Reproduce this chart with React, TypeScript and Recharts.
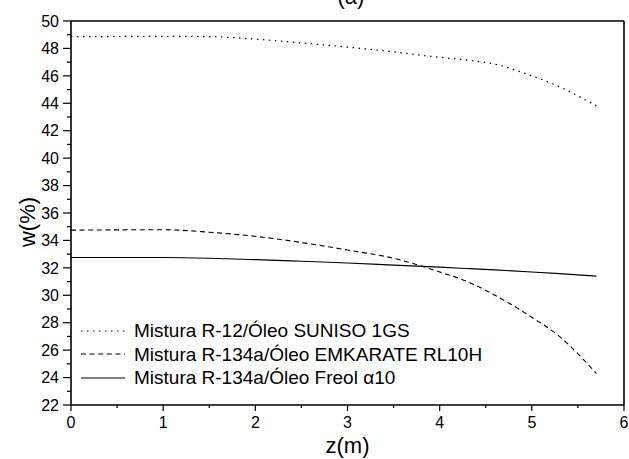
import React from 'react';
import { LineChart, Line, XAxis, YAxis, ReferenceLine } from 'recharts';

const zValues = [0, 0.5, 1, 1.5, 2, 2.5, 3, 3.5, 4, 4.3, 4.6, 5, 5.3, 5.7];
const suniso = [48.85, 48.87, 48.88, 48.86, 48.68, 48.4, 48.1, 47.75, 47.35, 47.15, 46.85, 46.0, 45.2, 43.8];
const emkarate = [34.75, 34.77, 34.78, 34.6, 34.3, 33.85, 33.3, 32.7, 31.7, 31.0, 30.0, 28.4, 27.0, 24.3];
const freol = [32.75, 32.75, 32.75, 32.7, 32.6, 32.48, 32.35, 32.2, 32.05, 31.95, 31.85, 31.7, 31.58, 31.4];

const xTicks = [0, 0.5, 1, 1.5, 2, 2.5, 3, 3.5, 4, 4.5, 5, 5.5, 6];
const yTicks = [22, 23, 24, 25, 26, 27, 28, 29, 30, 31, 32, 33, 34, 35, 36, 37, 38, 39, 40, 41, 42, 43, 44, 45, 46, 47, 48, 49, 50];

const seriesNames = [
  'Mistura R-12/Óleo SUNISO 1GS',
  'Mistura R-134a/Óleo EMKARATE RL10H',
  'Mistura R-134a/Óleo Freol α10',
];
const seriesDash = ['1.5 4.5', '5 3.6', ''];

const data = zValues.map((z, i) => ({ z, s1: suniso[i], s2: emkarate[i], s3: freol[i] }));

const FONT = '"Liberation Sans", Arial, sans-serif';

const XTick = (props: any) => {
  const { x, y, payload } = props;
  const v = payload.value;
  const major = Math.abs(v - Math.round(v)) < 1e-6;
  return (
    <g>
      <line x1={x} y1={y} x2={x} y2={y + (major ? 6 : 3)} stroke="#000" strokeWidth={1.2} />
      {major && (
        <text x={x} y={y + 12} dy="0.71em" textAnchor="middle" fill="#000" fontSize={16} fontFamily={FONT}>{v}</text>
      )}
    </g>
  );
};

const YTick = (props: any) => {
  const { x, y, payload } = props;
  const v = payload.value;
  const major = v % 2 === 0;
  return (
    <g>
      <line x1={x} y1={y} x2={x - (major ? 8 : 4)} y2={y} stroke="#000" strokeWidth={1.2} />
      {major && (
        <text x={x - 12} y={y} dy="0.355em" textAnchor="end" fill="#000" fontSize={16} fontFamily={FONT}>{v}</text>
      )}
    </g>
  );
};

export default function App() {
  return (
    <div style={{ position: 'absolute', left: 0, top: 0, width: 629, height: 459, background: '#fff', fontFamily: FONT }}>
      <LineChart width={629} height={459} data={data} margin={{ top: 21, right: 5, left: 0, bottom: 0 }}>
        <XAxis dataKey="z" type="number" domain={[0, 6]} ticks={xTicks} height={54}
          tickSize={0} tickMargin={0} interval={0} tickLine={false}
          axisLine={{ stroke: '#000', strokeWidth: 1.6 }}
          tick={<XTick />}
          label={{ value: 'z(m)', position: 'insideBottom', offset: 6, fill: '#000', fontSize: 22, fontFamily: FONT }} />
        <YAxis type="number" domain={[22, 50]} ticks={yTicks} width={71} interval={0}
          tickSize={0} tickMargin={0} tickLine={false}
          axisLine={{ stroke: '#000', strokeWidth: 1.6 }}
          tick={<YTick />}
          label={{
            content: (props: any) => {
              const vb = props.viewBox || { x: 0, y: 0, height: 0 };
              const cx = 27;
              const cy = vb.y + vb.height / 2 + 9;
              return (
                <text x={cx} y={cy} transform={`rotate(-90 ${cx} ${cy})`} textAnchor="middle"
                  dominantBaseline="central" fill="#000" fontSize={22} fontFamily={FONT}>w(%)</text>
              );
            },
          }} />
        <ReferenceLine y={50} stroke="#000" strokeWidth={1.6} />
        <ReferenceLine x={6} stroke="#000" strokeWidth={1.6} />
        <Line type="monotone" dataKey="s1" stroke="#000" strokeWidth={1.2} strokeDasharray={seriesDash[0]} dot={false} isAnimationActive={false} />
        <Line type="monotone" dataKey="s2" stroke="#000" strokeWidth={1.1} strokeDasharray={seriesDash[1]} dot={false} isAnimationActive={false} />
        <Line type="monotone" dataKey="s3" stroke="#000" strokeWidth={1.1} dot={false} isAnimationActive={false} />
      </LineChart>
      <svg width={629} height={30} style={{ position: 'absolute', left: 0, top: 0, pointerEvents: 'none' }}>
        <text x={351} y={4} textAnchor="middle" fill="#000" fontSize={22} fontFamily={FONT}>(a)</text>
      </svg>
      <div style={{ position: 'absolute', left: 81, top: 319, lineHeight: '23.5px' }}>
        {seriesNames.map((name, i) => (
          <div key={name} style={{ display: 'flex', alignItems: 'center', height: 23.5, fontSize: 19, color: '#000', whiteSpace: 'nowrap' }}>
            <svg width={44} height={10} style={{ marginRight: 9 }}>
              <line x1={0} y1={5} x2={44} y2={5} stroke="#000" strokeWidth={1.1} strokeDasharray={seriesDash[i] || undefined} />
            </svg>
            <span>{name}</span>
          </div>
        ))}
      </div>
    </div>
  );
}
